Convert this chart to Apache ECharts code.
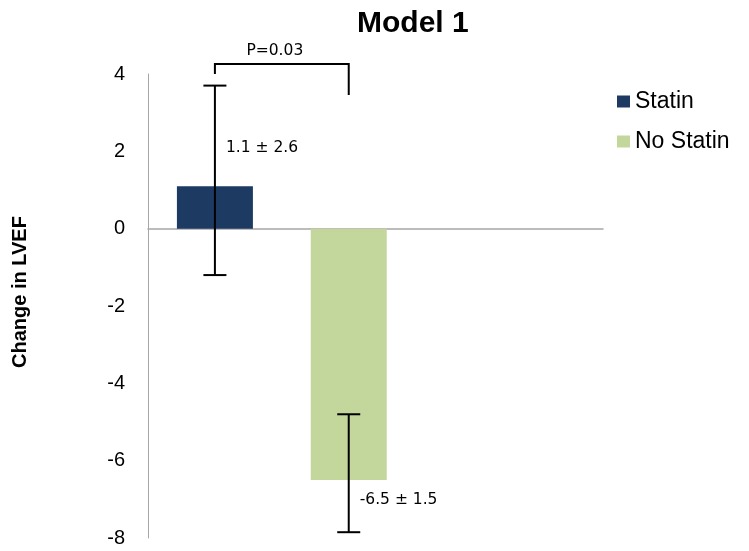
<!DOCTYPE html>
<html><head><meta charset="utf-8">
<script src="https://cdn.jsdelivr.net/npm/echarts@6/dist/echarts.min.js"></script>
<style>html,body{margin:0;padding:0;background:#fff}#c{width:749px;height:551px}</style>
</head><body><div id="c"></div>
<script>
// ---- data ----
const groups = ['Statin', 'No Statin'];
const means = [1.1, -6.5];
const errUpper = [3.7, -4.8];
const errLower = [-1.2, -7.85];
const meanLabels = ['1.1 ± 2.6', '-6.5 ± 1.5'];
const yTickMin = -8, yTickMax = 4, yTickStep = 2;
const pLabel = 'P=0.03';
const colors = ['#1d3a63', '#c3d69b'];

const chart = echarts.init(document.getElementById('c'), null, {renderer: 'canvas'});

const barSeries = groups.map((g, i) => ({
  name: g, type: 'bar',
  data: [[i, means[i]]],
  barWidth: 76, barGap: '-100%',
  itemStyle: {color: colors[i]},
  emphasis: {disabled: true},
  z: 2
}));

const errSeries = {
  type: 'custom', name: 'err', z: 5, clip: false,
  data: groups.map((g, i) => [i, errLower[i], errUpper[i], means[i]]),
  renderItem(params, api) {
    const x = api.value(0);
    const lo = api.coord([x, api.value(1)]);
    const hi = api.coord([x, api.value(2)]);
    const m = api.coord([x, api.value(3)]);
    const half = 11.5;
    const st = {stroke: '#000', lineWidth: 2};
    const pos = api.value(3) >= 0;
    return {type: 'group', children: [
      {type: 'line', shape: {x1: lo[0], y1: lo[1], x2: hi[0], y2: hi[1]}, style: st},
      {type: 'line', shape: {x1: lo[0] - half, y1: lo[1], x2: lo[0] + half, y2: lo[1]}, style: st},
      {type: 'line', shape: {x1: hi[0] - half, y1: hi[1], x2: hi[0] + half, y2: hi[1]}, style: st},
      {type: 'text', x: m[0] + 11, y: pos ? m[1] - 38 : m[1] + 20,
       style: {text: meanLabels[params.dataIndex], fill: '#000', font: '15.5px "DejaVu Sans"',
               textAlign: 'left', textVerticalAlign: 'middle'}}
    ]};
  }
};

const bracketSeries = {
  type: 'custom', name: 'bracket', z: 5, clip: false,
  data: [[0, 1]],
  renderItem(params, api) {
    const a = api.coord([api.value(0), yTickMax]);
    const b = api.coord([api.value(1), yTickMax]);
    const top = a[1] - 10;
    const st = {stroke: '#000', lineWidth: 2, fill: null};
    return {type: 'group', children: [
      {type: 'polyline', shape: {points: [[a[0], a[1]], [a[0], top], [b[0], top], [b[0], b[1] + 21]]}, style: st},
      {type: 'text', x: (a[0] + b[0]) / 2 - 7, y: top - 13,
       style: {text: pLabel, fill: '#000', font: '15.5px "DejaVu Sans"', textAlign: 'center', textVerticalAlign: 'middle'}}
    ]};
  }
};

chart.setOption({
  animation: false,
  title: {text: 'Model 1', left: 352, top: 4,
    textStyle: {fontFamily: 'Liberation Sans', fontSize: 30, fontWeight: 'bold', color: '#000'}},
  legend: {data: groups, orient: 'vertical', left: 617, top: 90, padding: 0, icon: 'rect',
    itemWidth: 13, itemHeight: 12, itemGap: 17,
    textStyle: {fontFamily: 'Liberation Sans', fontSize: 23, color: '#000'}},
  grid: {left: 148, right: 146, top: 74, bottom: 13},
  xAxis: {type: 'value', min: -0.5, max: 2.9,
    axisLine: {show: true, onZero: true, lineStyle: {color: '#a6a6a6', width: 1.5}},
    axisTick: {show: false}, axisLabel: {show: false}, splitLine: {show: false}},
  yAxis: {type: 'value', min: yTickMin, max: yTickMax, interval: yTickStep,
    name: 'Change in LVEF', nameLocation: 'middle', nameGap: 118,
    nameTextStyle: {fontFamily: 'Liberation Sans', fontSize: 20, fontWeight: 'bold', color: '#000',
      padding: [0, 0, 0, 28]},
    axisLine: {show: true, onZero: false, lineStyle: {color: '#a6a6a6', width: 1}},
    axisTick: {show: false},
    axisLabel: {fontFamily: 'Liberation Sans', fontSize: 20, color: '#000', margin: 23},
    splitLine: {show: false}},
  series: [...barSeries, errSeries, bracketSeries]
});
</script></body></html>
